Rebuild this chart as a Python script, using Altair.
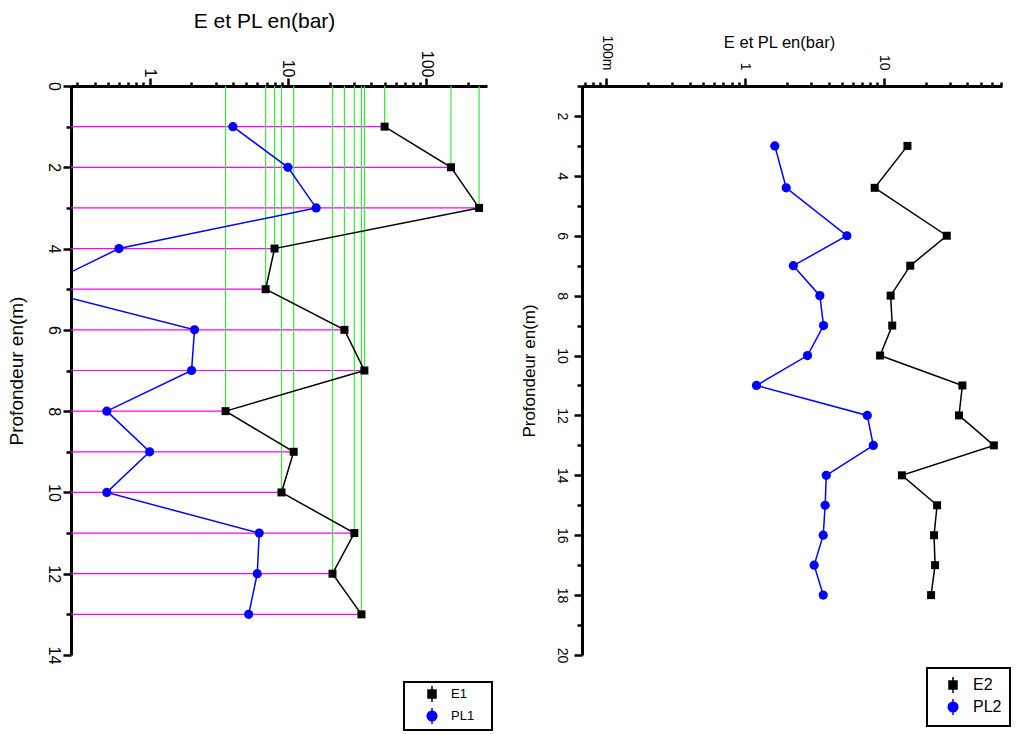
import altair as alt
import pandas as pd

FONT = "Liberation Sans"

# ---- data: left borehole ----
depth1 = [1, 2, 3, 4, 5, 6, 7, 8, 9, 10, 11, 12, 13]
e1 = [50, 151, 241, 8.0, 6.9, 25.6, 35.7, 3.54, 11.0, 8.98, 30.2, 21.0, 34.0]
pl1 = [4.0, 10.0, 16.0, 0.60, 0.15, 2.11, 2.01, 0.49, 1.0, 0.49, 6.2, 6.0, 5.2]

# ---- data: right borehole ----
depth2 = [3, 4.4, 6, 7, 8, 9, 10, 11, 12, 13, 14, 15, 16, 17, 18]
e2 = [14.8, 8.6, 28.4, 15.5, 11.2, 11.5, 9.4, 36.8, 34.8, 62.0, 13.5, 24.2, 23.0, 23.4, 21.9]
pl2 = [1.64, 1.98, 5.42, 2.23, 3.46, 3.68, 2.82, 1.21, 7.6, 8.4, 3.85, 3.78, 3.66, 3.15, 3.66]

series1 = ["E1", "PL1"]
series2 = ["E2", "PL2"]

x1_domain = [0.27, 275]
x2_domain = [0.067, 71]
y1_domain = [0, 14]
y2_domain = [1, 20]

x1_ticks = [0.3, 0.4, 0.5, 0.6, 0.7, 0.8, 0.9, 1, 2, 3, 4, 5, 6, 7, 8, 9,
            10, 20, 30, 40, 50, 60, 70, 80, 90, 100, 200]
x2_ticks = [0.07, 0.08, 0.09, 0.1, 0.2, 0.3, 0.4, 0.5, 0.6, 0.7, 0.8, 0.9,
            1, 2, 3, 4, 5, 6, 7, 8, 9, 10, 20, 30, 40, 50, 60, 70]
y1_ticks = list(range(0, 15))
y2_ticks = list(range(1, 21))

PATH_SQ = "M0,-1V1M-0.5,-0.5H0.5V0.5H-0.5Z"
PATH_CI = "M0,-1V1M-0.6,0A0.6,0.6,0,1,1,0.6,0A0.6,0.6,0,1,1,-0.6,0Z"

MAJOR = "datum.value == 0.1 || datum.value == 1 || datum.value == 10 || datum.value == 100"
NBSP = "\u00a0"


def x_axis(ticks, label_expr, font_size, title_size, title_x, title_y, pad):
    return alt.Axis(
        orient="top", values=ticks, labelExpr=label_expr, labelAngle=90,
        labelAlign="right", labelBaseline="middle", labelFontSize=font_size,
        labelFont=FONT, labelPadding=pad, labelOverlap=False, labelFlush=False,
        tickSize={"condition": {"test": MAJOR, "value": 8}, "value": 4},
        tickWidth=2.5, tickColor="black", domainWidth=3, domainColor="black",
        grid=False, title="E et PL en(bar)", titleFont=FONT,
        titleFontSize=title_size, titleFontWeight="normal", titleX=title_x,
        titleY=title_y, titleAlign="center", titleBaseline="middle",
        titleAngle=0, titleColor="black", labelColor="black")


def y_axis(ticks, font_size, title_size, title_x, title_y, pad):
    return alt.Axis(
        orient="left", values=ticks,
        labelExpr="datum.value % 2 == 0 ? datum.label : ''",
        labelAngle=90, labelAlign="center", labelBaseline="top",
        labelFontSize=font_size, labelFont=FONT, labelPadding=pad,
        labelOverlap=False, labelFlush=False,
        tickSize={"condition": {"test": "datum.value % 2 == 0", "value": 8}, "value": 5},
        tickWidth=2.5, tickColor="black", domainWidth=3, domainColor="black",
        grid=False, title="Profondeur en(m)", titleFont=FONT,
        titleFontSize=title_size, titleFontWeight="normal", titleAngle=270,
        titleX=title_x, titleY=title_y, titleAlign="center",
        titleBaseline="middle", titleColor="black", labelColor="black")


def panel(depth, e, pl, names, xdom, ydom, xticks, yticks, xlab, width, height,
          xfs, xts, xtx, xty, xpad, yfs, yts, ytx, ypad, leg, guides):
    df = pd.DataFrame({"depth": depth, "E": e, "PL": pl})
    xs = alt.Scale(type="log", domain=xdom, nice=False)
    ys = alt.Scale(domain=ydom, reverse=True, nice=False, zero=False)
    xa = x_axis(xticks, xlab, xfs, xts, xtx, xty, xpad)
    ya = y_axis(yticks, yfs, yts, ytx, height / 2, ypad)
    Y = alt.Y("depth:Q", scale=ys, axis=ya)

    def X(f):
        return alt.X(f + ":Q", scale=xs, axis=xa)

    base = alt.Chart(df)
    layers = []
    if guides:
        layers.append(base.mark_rule(color="#ff00ff", strokeWidth=1.2).encode(
            x=alt.X("E:Q", scale=xs, axis=xa), x2=alt.datum(xdom[0]), y=Y))
        layers.append(base.mark_rule(color="#33ee33", strokeWidth=1.2).encode(
            x=X("E"), y=Y, y2=alt.datum(ydom[0])))
    layers.append(base.mark_line(color="black", strokeWidth=1.5, clip=True).encode(
        x=X("E"), y=Y, order=alt.Order("depth:Q")))
    layers.append(base.mark_line(color="#0000ff", strokeWidth=1.5, clip=True).encode(
        x=X("PL"), y=Y, order=alt.Order("depth:Q")))
    layers.append(base.mark_square(color="black", size=64, opacity=1, clip=True).encode(
        x=X("E"), y=Y))
    layers.append(base.mark_circle(color="#0000ff", size=85, opacity=1, clip=True).encode(
        x=X("PL"), y=Y))

    ldf = pd.DataFrame({"series": names})
    layers.append(alt.Chart(ldf).mark_point(filled=True, opacity=0).encode(
        fill=alt.Fill("series:N", scale=alt.Scale(domain=names, range=["black", "#0000ff"]), legend=leg),
        stroke=alt.Stroke("series:N", scale=alt.Scale(domain=names, range=["black", "#0000ff"]), legend=leg),
        shape=alt.Shape("series:N", scale=alt.Scale(domain=names, range=[PATH_SQ, PATH_CI]), legend=leg),
    ))
    return alt.layer(*layers).properties(width=width, height=height)


leg1 = alt.Legend(orient="none", legendX=333, legendY=596, title=NBSP,
                  titleOrient="right", titlePadding=15, titleFontSize=8,
                  strokeColor="black", padding=3, symbolSize=256,
                  symbolStrokeWidth=1.5, symbolOffset=16, labelOffset=10,
                  labelFontSize=13, labelFont=FONT, rowPadding=0,
                  symbolOpacity=1, fillColor="white", labelColor="black")
leg2 = alt.Legend(orient="none", legendX=345, legendY=582, title=None,
                  strokeColor="black", padding=8, symbolSize=256,
                  symbolStrokeWidth=1.5, symbolOffset=9, labelOffset=11,
                  labelFontSize=16, labelFont=FONT, rowPadding=0,
                  symbolOpacity=1, fillColor="white", labelColor="black")

lab1 = "datum.value == 1 ? '1' : datum.value == 10 ? '10' : datum.value == 100 ? '100' : ''"
lab2 = "datum.value == 0.1 ? '100m' : datum.value == 1 ? '1' : datum.value == 10 ? '10' : ''"

left = panel(depth1, e1, pl1, series1, x1_domain, y1_domain, x1_ticks, y1_ticks,
             lab1, 416, 569, 16, 21, 193, -65, 1, 16, 19, -55, 2, leg1, True)
right = panel(depth2, e2, pl2, series2, x2_domain, y2_domain, x2_ticks, y2_ticks,
              lab2, 420, 569, 14, 16.5, 197, -44, 8, 14, 17, -53, 6, leg2, False)

chart = alt.hconcat(left, right, spacing=95, bounds="flush").resolve_scale(
    fill="independent", stroke="independent", shape="independent",
    x="independent", y="independent").resolve_legend(
    fill="independent", stroke="independent", shape="independent").properties(
    padding={"left": 7, "top": 10, "right": 0, "bottom": 0}
).configure_view(strokeWidth=0).configure_legend(strokeWidth=2)

chart.save("out.html", embed_options={"renderer": "svg", "actions": False})
